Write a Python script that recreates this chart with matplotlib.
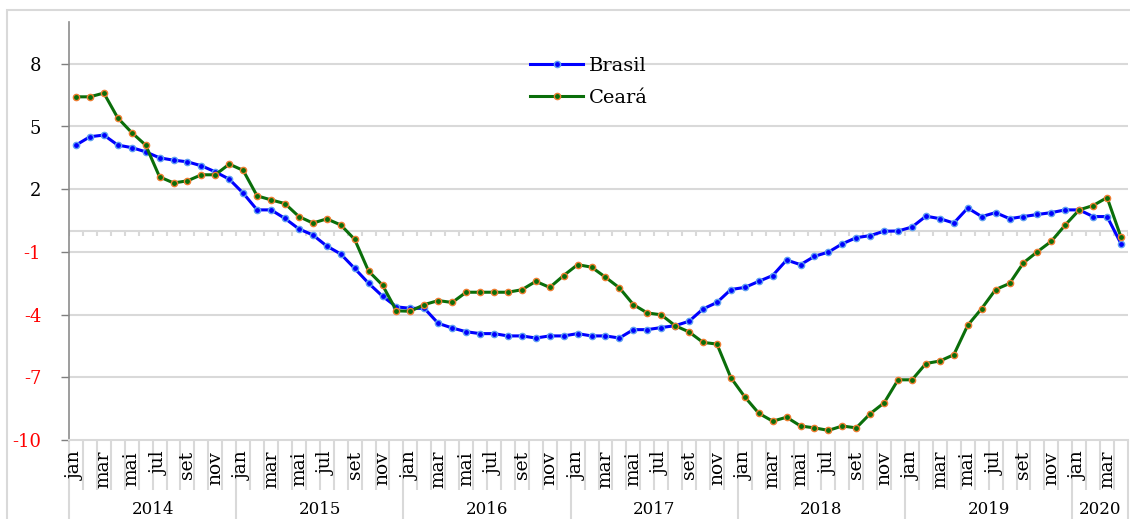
import matplotlib
matplotlib.use("Agg")
import matplotlib.pyplot as plt
from matplotlib.patches import Rectangle
import matplotlib.transforms as mtransforms

months = ["jan", "fev", "mar", "abr", "mai", "jun", "jul", "ago", "set", "out", "nov", "dez"]
years = ["2014", "2015", "2016", "2017", "2018", "2019", "2020"]
months_per_year = [12, 12, 12, 12, 12, 12, 4]

brasil = [
    4.11, 4.51, 4.59, 4.11, 3.99, 3.79, 3.50, 3.39, 3.31, 3.12, 2.83, 2.48,
    1.81, 1.01, 1.01, 0.60, 0.10, -0.19, -0.72, -1.10, -1.79, -2.50, -3.12, -3.63,
    -3.70, -3.70, -4.42, -4.64, -4.82, -4.91, -4.91, -5.02, -5.02, -5.12, -5.02, -5.02,
    -4.91, -5.02, -5.02, -5.12, -4.72, -4.72, -4.62, -4.53, -4.32, -3.73, -3.42, -2.80,
    -2.70, -2.41, -2.13, -1.39, -1.61, -1.21, -1.01, -0.61, -0.32, -0.22, -0.01, 0.00,
    0.19, 0.71, 0.59, 0.38, 1.10, 0.69, 0.88, 0.59, 0.69, 0.79, 0.88, 1.01,
    1.01, 0.69, 0.69, -0.61,
]
ceara = [
    6.42, 6.42, 6.60, 5.41, 4.71, 4.11, 2.59, 2.30, 2.40, 2.69, 2.69, 3.20,
    2.90, 1.68, 1.49, 1.31, 0.69, 0.38, 0.58, 0.29, -0.40, -1.92, -2.59, -3.82,
    -3.84, -3.52, -3.33, -3.42, -2.93, -2.93, -2.93, -2.93, -2.81, -2.41, -2.70, -2.13,
    -1.61, -1.73, -2.21, -2.72, -3.52, -3.92, -4.01, -4.53, -4.83, -5.33, -5.41, -7.02,
    -7.94, -8.72, -9.10, -8.91, -9.33, -9.42, -9.54, -9.33, -9.42, -8.74, -8.22, -7.12,
    -7.12, -6.34, -6.22, -5.92, -4.51, -3.71, -2.80, -2.51, -1.52, -0.99, -0.49, 0.29,
    1.01, 1.22, 1.60, -0.30,
]
yticks = [-10, -7, -4, -1, 2, 5, 8]

plt.rcParams['font.family'] = ['DejaVu Serif']

W, H = 1130, 519
fig = plt.figure(figsize=(W / 100, H / 100), dpi=100)
ax = fig.add_axes([69 / W, (H - 440) / H, (1128 - 69) / W, (440 - 22) / H])

n = len(brasil)
x = list(range(n))
grid_c = '#d9d9d9'

# outer border
fig.patches.append(Rectangle((7 / W, -0.1), 1.2, (H - 10) / H + 0.1,
                             transform=fig.transFigure, fill=False,
                             edgecolor=grid_c, linewidth=1.5))

ax.set_xlim(-0.5, n - 0.5)
ax.set_ylim(-10, 10)
ax.set_yticks(yticks)
ax.set_yticklabels([str(v) for v in yticks], fontsize=13)
for lbl, v in zip(ax.get_yticklabels(), yticks):
    lbl.set_color('red' if v < 0 else 'black')
ax.tick_params(axis='y', length=6, width=1, color='#7f7f7f', pad=14)
ax.set_xticks([])
for v in yticks[1:]:
    ax.axhline(v, color=grid_c, lw=1.5, zorder=0)
ax.axhline(0, color=grid_c, lw=1.5, zorder=0)
for i in range(n + 1):
    ax.plot([i - 0.5, i - 0.5], [0, -0.25], color=grid_c, lw=1.5, zorder=0,
            solid_capstyle='butt')

for s in ['top', 'right']:
    ax.spines[s].set_visible(False)
ax.spines['left'].set_color('#8c8c8c')
ax.spines['left'].set_linewidth(1.2)
ax.spines['bottom'].set_color(grid_c)
ax.spines['bottom'].set_linewidth(1.5)

ax.plot(x, brasil, color='#0000ff', lw=2.2, marker='o', markersize=4.5,
        markerfacecolor='#0000ff', markeredgecolor='#5fa0f0', markeredgewidth=1.0,
        label='Brasil', zorder=3)
ax.plot(x, ceara, color='#0a6e0a', lw=2.2, marker='o', markersize=4.5,
        markerfacecolor='#0a6e0a', markeredgecolor='#ed7d31', markeredgewidth=1.0,
        label='Ceará', zorder=4)

leg = ax.legend(loc='upper left', bbox_to_anchor=((530 - 69) / (1128 - 69), (440 - 57) / 418),
                frameon=False, fontsize=14, handlelength=2.75, handletextpad=0.3,
                labelspacing=0.7, borderaxespad=0, borderpad=0)

# category axis
trans = mtransforms.blended_transform_factory(ax.transData, ax.transAxes)
month_bottom = -50 / 418
idx = 0
year_bounds = [-0.5]
for yr, cnt in zip(years, months_per_year):
    for m in range(cnt):
        if m % 2 == 0:
            ax.text(idx + m, -11 / 418, months[m], rotation=90, ha='center', va='top',
                    fontsize=13.5, transform=trans, clip_on=False)
    ax.text(idx + (cnt - 1) / 2, -61 / 418, yr, ha='center', va='top', fontsize=12,
            transform=trans, clip_on=False)
    idx += cnt
    year_bounds.append(idx - 0.5)

for i in range(n + 1):
    b = i - 0.5
    bottom = -0.3 if b in year_bounds else month_bottom
    ax.plot([b, b], [0, bottom], color=grid_c, lw=1.5, transform=trans, clip_on=False,
            solid_capstyle='butt', zorder=0)

fig.savefig('out.png', dpi=100)
